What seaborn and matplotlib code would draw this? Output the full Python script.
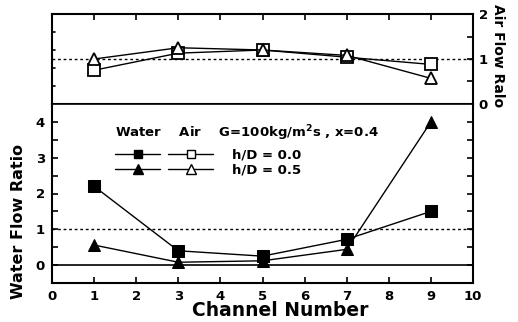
import numpy as np
import pandas as pd
import matplotlib
matplotlib.use("Agg")
import matplotlib.pyplot as plt
import seaborn as sns
from matplotlib.lines import Line2D

sns.set_theme(style="ticks")
plt.rcParams['font.family'] = ['DejaVu Sans']
plt.rcParams['font.weight'] = 'bold'
plt.rcParams['mathtext.default'] = 'bf'
plt.rcParams['text.color'] = 'black'
plt.rcParams['axes.labelcolor'] = 'black'
plt.rcParams['xtick.color'] = 'black'
plt.rcParams['ytick.color'] = 'black'

channels = [1, 3, 5, 7, 9]
water_h00 = [2.2, 0.4, 0.25, 0.72, 1.5]
water_h05 = [0.56, 0.08, 0.12, 0.44, 4.0]
air_h00 = [0.75, 1.13, 1.2, 1.04, 0.88]
air_h05 = [1.0, 1.25, 1.2, 1.08, 0.57]

xticks = [0, 1, 2, 3, 4, 5, 6, 7, 8, 9, 10]

water = pd.DataFrame({"ch": channels * 2,
                      "val": water_h00 + water_h05,
                      "hd": ["0.0"] * 5 + ["0.5"] * 5})
air = pd.DataFrame({"ch": channels * 2,
                    "val": air_h00 + air_h05,
                    "hd": ["0.0"] * 5 + ["0.5"] * 5})

W, H = 518, 322
fig = plt.figure(figsize=(W / 100, H / 100), dpi=100)
left, right = 52 / W, 473 / W
ax_top = fig.add_axes([left, 1 - 104 / H, right - left, 90 / H])
ax_bot = fig.add_axes([left, 1 - 283 / H, right - left, 179 / H])

k = 'black'
# Upper panel: air
sns.lineplot(data=air, x="ch", y="val", hue="hd", style="hd",
             markers={"0.0": "s", "0.5": "^"}, dashes=False,
             palette={"0.0": k, "0.5": k}, ax=ax_top, legend=False,
             markerfacecolor="white", markeredgecolor=k, markersize=8,
             markeredgewidth=1.3, linewidth=1.0)
ax_top.axhline(1.0, color=k, ls=(0, (2, 2)), lw=1.0, zorder=0)
ax_top.set_xlim(0, 10)
ax_top.set_ylim(0, 2)
ax_top.yaxis.tick_right()
ax_top.set_yticks([0, 1, 2])
ax_top.set_yticks([0.5, 1.5], minor=True)
ax_top.set_ylabel("Air Flow Ralo", rotation=-90, fontsize=10, fontweight='bold',
                  va='center', ha='center')
ax_top.yaxis.set_label_position("right")
ax_top.yaxis.set_label_coords((505 - 52) / 421, (104 - 56) / 90)
ax_top.set_xlabel("")
ax_top.set_xticks(xticks)
ax_top.tick_params(axis='x', which='both', direction='in', top=True, bottom=False,
                   labelbottom=False, length=4, width=1.2)
ax_top.tick_params(axis='y', which='both', direction='in', right=True, left=False,
                   labelsize=9.5, length=4, width=1.2, pad=4)
for lbl in ax_top.get_yticklabels():
    lbl.set_fontweight('bold')
# left-side ticks of upper panel
for yy in [0.4, 0.8, 1.2, 1.6]:
    ax_top.plot([0, 0.08], [yy, yy], color=k, lw=1.2, clip_on=False)
for s in ax_top.spines.values():
    s.set_linewidth(1.5)
    s.set_color(k)

# Lower panel: water
sns.lineplot(data=water, x="ch", y="val", hue="hd", style="hd",
             markers={"0.0": "s", "0.5": "^"}, dashes=False,
             palette={"0.0": k, "0.5": k}, ax=ax_bot, legend=False,
             markersize=9, markeredgecolor=k, linewidth=1.0)
ax_bot.axhline(1.0, color=k, ls=(0, (2, 2)), lw=1.0, zorder=0)
ax_bot.axhline(0.0, color=k, lw=1.2, zorder=0)
ax_bot.set_xlim(0, 10)
ax_bot.set_ylim(-0.5, 4.5)
ax_bot.set_xticks(xticks)
ax_bot.set_yticks([0, 1, 2, 3, 4])
ax_bot.set_yticks([-0.5, 0.5, 1.5, 2.5, 3.5], minor=True)
ax_bot.tick_params(axis='both', which='both', direction='in', right=True,
                   labelsize=9.5, length=4, width=1.2, pad=5)
ax_bot.set_xlabel("Channel Number", fontsize=13.5, fontweight='bold')
ax_bot.xaxis.set_label_coords((280 - 52) / 421, -(311 - 283) / 179)
ax_bot.xaxis.label.set_va('center')
ax_bot.set_ylabel("Water Flow Ratio", fontsize=11.5, fontweight='bold',
                  va='center', ha='center')
ax_bot.yaxis.set_label_coords((19 - 52) / 421, (283 - 221) / 179)
for lbl in ax_bot.get_xticklabels() + ax_bot.get_yticklabels():
    lbl.set_fontweight('bold')
for s in ax_bot.spines.values():
    s.set_linewidth(1.5)
    s.set_color(k)
ax_bot.spines['top'].set_linewidth(1.2)

# Legend
ax_bot.text((115 - 52) / 421, (283 - 133) / 179,
            "Water    Air    G=100kg/m$^{\\mathbf{2}}$s , x=0.4",
            transform=ax_bot.transAxes, fontsize=9.5, fontweight='bold', va='center')
handles = [
    Line2D([], [], color=k, marker='s', markersize=6, lw=1.0),
    Line2D([], [], color=k, marker='^', markersize=7, lw=1.0),
    Line2D([], [], color=k, marker='s', markersize=6, lw=1.0, markerfacecolor='white'),
    Line2D([], [], color=k, marker='^', markersize=7, lw=1.0, markerfacecolor='white'),
]
labels = ["", "", "h/D = 0.0", "h/D = 0.5"]
fs = 9.5
em = fs * 100 / 72
leg = ax_bot.legend(handles, labels, ncol=2, loc='upper left',
                    bbox_to_anchor=((115 - 52) / 421, (283 - 149) / 179),
                    frameon=False, borderaxespad=0, borderpad=0,
                    handlelength=45 / em, handletextpad=19 / em,
                    columnspacing=(168 - 179) / em,
                    labelspacing=0.15,
                    prop={'weight': 'bold', 'size': fs})
for t in leg.get_texts():
    t.set_color(k)

fig.savefig("out.png", dpi=100)
